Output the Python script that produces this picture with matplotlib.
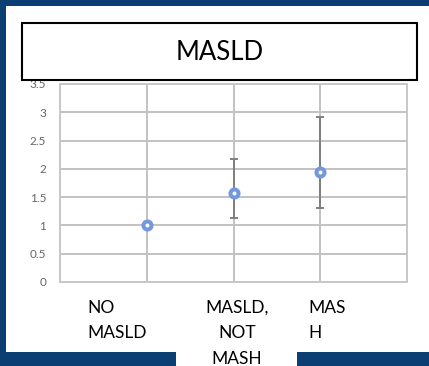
import matplotlib
matplotlib.use("Agg")
import matplotlib.pyplot as plt
from matplotlib.patches import Rectangle
import numpy as np

# Data
categories = ["NO\nMASLD", "MASLD,\nNOT\nMASH", "MAS\nH"]
x_pos = [1, 2, 3]
estimates = [1.0, 1.57, 1.94]
ci_low = [1.0, 1.14, 1.30]
ci_high = [1.0, 2.17, 2.92]
y_ticks = [0, 0.5, 1, 1.5, 2, 2.5, 3, 3.5]
y_tick_labels = ["0", "0.5", "1", "1.5", "2", "2.5", "3", "3.5"]
title = "MASLD"

W, H = 429, 366
DPI = 100
NAVY = "#0B3E72"
FONT = "Lato"

fig = plt.figure(figsize=(W / DPI, H / DPI), dpi=DPI, facecolor="white")


def px_rect(x0, y0, x1, y1, **kw):
    """Rectangle given in pixel coordinates measured from the top-left."""
    r = Rectangle((x0 / W, 1 - y1 / H), (x1 - x0) / W, (y1 - y0) / H,
                  transform=fig.transFigure, **kw)
    fig.add_artist(r)
    return r


# Navy slide frame: left and top edges, bottom band split by the label box
px_rect(-2, -2, 6, H + 2, facecolor=NAVY, edgecolor="none", zorder=-2)
px_rect(-2, -2, W + 2, 6, facecolor=NAVY, edgecolor="none", zorder=-2)
px_rect(-2, 352, 176, H + 2, facecolor=NAVY, edgecolor="none", zorder=-2)
px_rect(297, 352, W + 2, H + 2, facecolor=NAVY, edgecolor="none", zorder=-2)

# Plot area
ax_l, ax_r, ax_t, ax_b = 60, 407, 84, 282
ax = fig.add_axes([ax_l / W, 1 - ax_b / H, (ax_r - ax_l) / W, (ax_b - ax_t) / H])
ax.set_facecolor("white")
ax.set_xlim(0, 4)
ax.set_ylim(0, 3.5)
ax.set_xticks([0, 1, 2, 3, 4])
ax.set_xticklabels([])
ax.set_yticks(y_ticks)
ax.set_yticklabels(y_tick_labels, fontsize=8.5, color="#666666", family=FONT)
ax.tick_params(length=0, pad=10)
ax.grid(True, color="#C2C2C2", linewidth=1.4)
for s in ax.spines.values():
    s.set_color("#C8C8C8")
    s.set_linewidth(1.4)
ax.set_axisbelow(True)

est = np.array(estimates)
lo = np.array(ci_low)
hi = np.array(ci_high)
xs = np.array(x_pos)
has_ci = hi > lo
ax.errorbar(xs[has_ci], est[has_ci],
            yerr=[est[has_ci] - lo[has_ci], hi[has_ci] - est[has_ci]],
            fmt="none", ecolor="#7F7F7F", elinewidth=1.4, capsize=3.2,
            capthick=1.4, zorder=3)
ax.plot(xs, est, linestyle="none", marker="o", markersize=5.8,
        markerfacecolor="white", markeredgecolor="#7398DC",
        markeredgewidth=2.9, zorder=4)

# Title box overlapping the top of the plot
px_rect(22, 23, 417, 80, facecolor="white", edgecolor="black",
        linewidth=1.5, zorder=5)
fig.text(219.5 / W, 1 - 52 / H, title, ha="center", va="center",
         fontsize=18.5, family=FONT, color="black", zorder=6)

# Category labels under the plot
label_pos = [(87, "left"), (237, "center"), (308, "left")]
for (lx, ha), lab in zip(label_pos, categories):
    fig.text(lx / W, 1 - 300 / H, lab, ha=ha, va="top", fontsize=12.5,
             family=FONT, color="black", linespacing=1.72, zorder=6)

fig.savefig("out.png", dpi=DPI, facecolor="white")
